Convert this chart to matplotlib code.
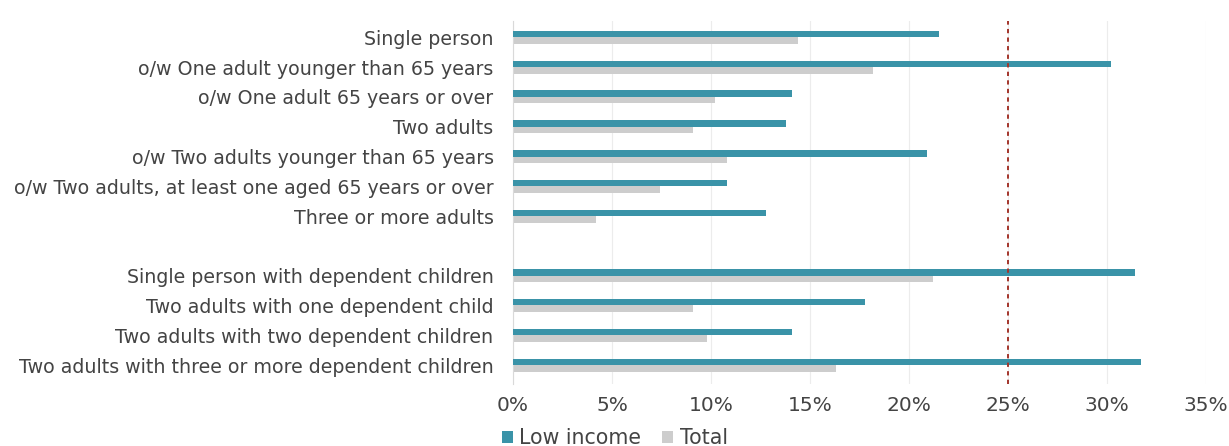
import matplotlib
matplotlib.use("Agg")
import matplotlib.pyplot as plt
import numpy as np
from matplotlib.ticker import FuncFormatter, MultipleLocator

categories = [
    "Single person",
    "o/w One adult younger than 65 years",
    "o/w One adult 65 years or over",
    "Two adults",
    "o/w Two adults younger than 65 years",
    "o/w Two adults, at least one aged 65 years or over",
    "Three or more adults",
    "",
    "Single person with dependent children",
    "Two adults with one dependent child",
    "Two adults with two dependent children",
    "Two adults with three or more dependent children",
]
low_income = [21.5, 30.2, 14.1, 13.8, 20.9, 10.8, 12.8, np.nan, 31.4, 17.8, 14.1, 31.7]
total = [14.4, 18.2, 10.2, 9.1, 10.8, 7.4, 4.2, np.nan, 21.2, 9.1, 9.8, 16.3]
threshold = 25.0

TEAL = "#3a93a8"
GREY = "#cdcdcd"
TEXT = "#444444"

plt.rcParams["font.family"] = ["DejaVu Sans"]

fig = plt.figure(figsize=(12.29, 4.46), dpi=100)
ax = fig.add_axes([0.4174, 0.14, 0.5639, 0.813])

y = np.arange(len(categories))
h = 0.22
ax.barh(y - h / 2, low_income, height=h, color=TEAL, label="Low income", zorder=3)
ax.barh(y + h / 2, total, height=h, color=GREY, label="Total", zorder=2)
ax.axvline(threshold, color="#a3352b", linestyle=(0, (2.2, 2.2)), linewidth=1.4, zorder=4)

ax.set_xlim(0, 35)
ax.set_ylim(11.62, -0.55)
ax.xaxis.set_major_locator(MultipleLocator(5))
ax.xaxis.set_major_formatter(FuncFormatter(lambda v, _: f"{v:.0f}%"))
ax.set_yticks(y)
ax.set_yticklabels(categories)
ax.tick_params(axis="both", length=0, colors=TEXT)
ax.tick_params(axis="y", pad=14, labelsize=13.7)
ax.tick_params(axis="x", pad=9, labelsize=14.5)
ax.grid(axis="x", color="#ececec", linewidth=0.8, zorder=0)
for side in ("top", "right", "bottom"):
    ax.spines[side].set_visible(False)
ax.spines["left"].set_color("#d9d9d9")
ax.spines["left"].set_linewidth(0.8)

ax.legend(loc="center left", bbox_to_anchor=(502 / 1229, 1 - 438 / 446),
          bbox_transform=fig.transFigure, ncol=2, frameon=False,
          handlelength=0.55, handleheight=0.55, handletextpad=0.3, columnspacing=1.0,
          fontsize=14.8, labelcolor=TEXT, borderaxespad=0, borderpad=0)

fig.savefig("out.png", dpi=100, facecolor="white")
